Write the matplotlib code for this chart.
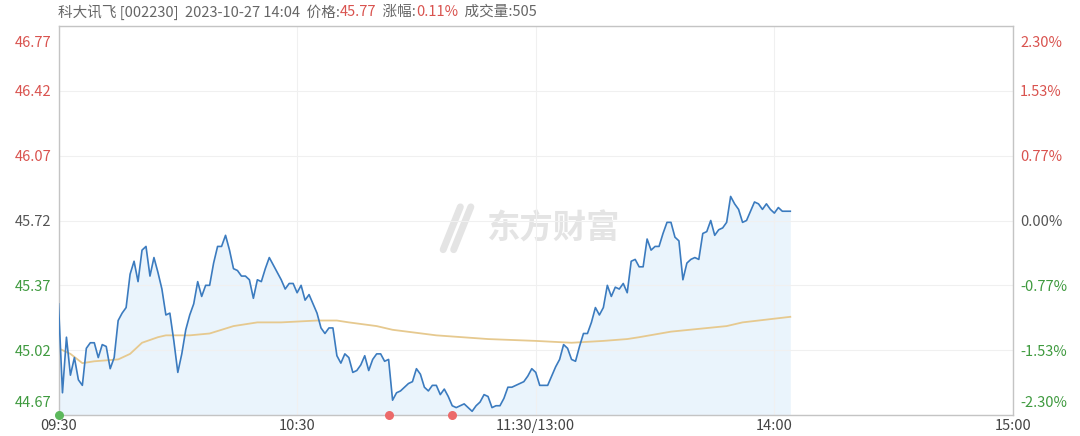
import numpy as np
import matplotlib
matplotlib.use('Agg')
import matplotlib.pyplot as plt
from matplotlib.transforms import ScaledTranslation
from matplotlib.lines import Line2D

plt.rcParams['font.family'] = ['Noto Sans CJK SC', 'DejaVu Sans']

# minutes since 09:30 (lunch break removed, 120 = 11:30/13:00)
price = [45.27, 44.79, 45.09, 44.885, 44.98, 44.86, 44.83, 45.03, 45.06, 45.06,
         44.98, 45.05, 45.04, 44.92, 44.98, 45.18, 45.22, 45.25, 45.43, 45.50,
         45.39, 45.56, 45.58, 45.42, 45.52, 45.44, 45.35, 45.21, 45.22, 45.07,
         44.90, 45.00, 45.13, 45.21, 45.27, 45.39, 45.31, 45.37, 45.37, 45.49,
         45.58, 45.58, 45.64, 45.56, 45.46, 45.45, 45.42, 45.42, 45.40, 45.30,
         45.40, 45.39, 45.46, 45.52, 45.48, 45.44, 45.40, 45.35, 45.38, 45.38,
         45.33, 45.37, 45.29, 45.32, 45.27, 45.22, 45.14, 45.11, 45.14, 45.14,
         44.99, 44.95, 45.00, 44.98, 44.90, 44.91, 44.94, 44.99, 44.91, 44.97,
         45.00, 45.00, 44.96, 44.97, 44.75, 44.79, 44.80, 44.82, 44.84, 44.85,
         44.92, 44.89, 44.82, 44.80, 44.83, 44.83, 44.78, 44.81, 44.77, 44.72,
         44.71, 44.72, 44.73, 44.71, 44.69, 44.72, 44.74, 44.78, 44.77, 44.71,
         44.72, 44.72, 44.76, 44.82, 44.82, 44.83, 44.84, 44.85, 44.88, 44.92,
         44.90, 44.83, 44.83, 44.83, 44.88, 44.93, 44.97, 45.05, 45.03, 44.97,
         44.96, 45.04, 45.11, 45.11, 45.17, 45.25, 45.21, 45.25, 45.37, 45.31,
         45.36, 45.35, 45.38, 45.33, 45.50, 45.51, 45.47, 45.47, 45.62, 45.56,
         45.58, 45.58, 45.65, 45.71, 45.71, 45.63, 45.61, 45.40, 45.49, 45.51,
         45.52, 45.51, 45.65, 45.66, 45.72, 45.64, 45.67, 45.68, 45.71, 45.85,
         45.81, 45.78, 45.71, 45.72, 45.77, 45.82, 45.81, 45.78, 45.81, 45.78,
         45.76, 45.79, 45.77, 45.77, 45.77]
minutes = list(range(len(price)))

avg_minutes = [0, 3, 6, 9, 15, 18, 21, 25, 27, 33, 38, 44, 50, 56, 65, 70, 73,
               80, 84, 95, 108, 120, 129, 137, 143, 146, 154, 168, 172, 184]
avg_price = [45.03, 45.00, 44.95, 44.96, 44.97, 45.00, 45.06, 45.09, 45.10, 45.10,
             45.11, 45.15, 45.17, 45.17, 45.18, 45.18, 45.17, 45.15, 45.13, 45.10,
             45.08, 45.07, 45.06, 45.07, 45.08, 45.09, 45.12, 45.15, 45.17, 45.20]

green_dots = [0]
red_dots = [83, 99]

y_ticks = [46.77, 46.42, 46.07, 45.72, 45.37, 45.02, 44.67]
pct_labels = ['2.30%', '1.53%', '0.77%', '0.00%', '-0.77%', '-1.53%', '-2.30%']
x_ticks = [0, 60, 120, 180, 240]
x_labels = ['09:30', '10:30', '11:30/13:00', '14:00', '15:00']
prev_close = 45.72

RED = '#d9534f'
GREEN = '#3f9a3f'
GRAY = '#555555'
WM = '#e4e4e4'

fig = plt.figure(figsize=(10.8, 4.36), dpi=100)
ax = fig.add_axes([58.5 / 1080, 21 / 436, 954.5 / 1080, 389 / 436])

ax.fill_between(minutes, price, 44.67, color='#eaf4fc', lw=0, zorder=1)
ax.plot(minutes, price, color='#3b7bbf', lw=1.2, zorder=3)
ax.plot(avg_minutes, avg_price, color='#e6c98f', lw=1.3, zorder=2)

ax.scatter(green_dots, [44.67] * len(green_dots), s=30, color='#5cb85c',
           zorder=5, clip_on=False)
ax.scatter(red_dots, [44.67] * len(red_dots), s=30, color='#ec6a6a',
           zorder=5, clip_on=False)

# watermark: logo strokes + text
ax.text(0.518, 0.477, '东方财富', transform=ax.transAxes, fontsize=24,
        fontweight='bold', color=WM, ha='center', va='center', zorder=0)
for dx in (0.0, 0.011):
    ax.add_line(Line2D([0.403 + dx, 0.412 + dx, 0.421 + dx],
                       [0.425, 0.48, 0.535], transform=ax.transAxes,
                       color=WM, lw=5, solid_capstyle='round', zorder=0))

ax.set_xlim(0, 240)
ax.set_ylim(44.67, 46.77)
ax.set_xticks(x_ticks)
ax.set_xticklabels(x_labels, color='#444444', fontsize=10.5)
ax.set_yticks(y_ticks)
ax.set_yticklabels(['%.2f' % v for v in y_ticks], fontsize=10.5)
ax.tick_params(length=0, axis='y', pad=5)
ax.tick_params(length=0, axis='x', pad=3)

ax.grid(True, color='#f0f0f0', lw=0.8, zorder=0)
for s in ax.spines.values():
    s.set_color('#c4c4c4')
    s.set_linewidth(1)

ax2 = ax.twinx()
ax2.set_ylim(44.67, 46.77)
ax2.set_yticks(y_ticks)
ax2.set_yticklabels(pct_labels, fontsize=10.5)
ax2.tick_params(length=0, pad=5)
for s in ax2.spines.values():
    s.set_visible(False)

for labels in (ax.get_yticklabels(), ax2.get_yticklabels()):
    for v, lab in zip(y_ticks, labels):
        if v > prev_close:
            lab.set_color(RED)
        elif v < prev_close:
            lab.set_color(GREEN)
        else:
            lab.set_color(GRAY)
    labels[0].set_transform(labels[0].get_transform() +
                            ScaledTranslation(0, -0.16, fig.dpi_scale_trans))
    labels[-1].set_transform(labels[-1].get_transform() +
                             ScaledTranslation(0, 0.13, fig.dpi_scale_trans))

# header line with coloured pieces
header = [('科大讯飞 [002230]  2023-10-27 14:04  价格:', '#666666'),
          ('45.77', RED), ('  涨幅:', '#666666'), ('0.11%', RED),
          ('  成交量:505', '#666666')]
renderer = fig.canvas.get_renderer()
x0 = 58 / 1080
for txt, col in header:
    t = fig.text(x0, 1 - 12 / 436, txt, color=col, fontsize=10.5, va='center',
                 ha='left')
    bb = t.get_window_extent(renderer=renderer)
    x0 += bb.width / 1080

fig.savefig('out.png', dpi=100)
